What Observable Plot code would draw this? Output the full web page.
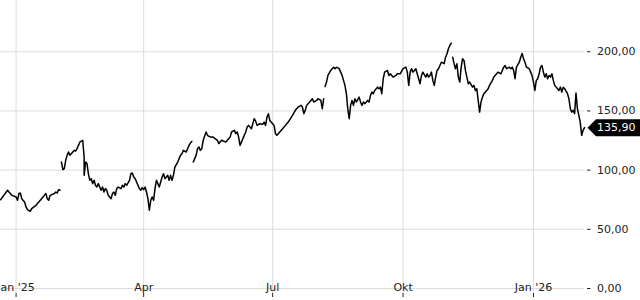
<!DOCTYPE html>
<html><head><meta charset="utf-8">
<script src="https://cdn.jsdelivr.net/npm/d3@7"></script>
<script src="https://cdn.jsdelivr.net/npm/@observablehq/plot@0.6"></script>
<style>
html,body{margin:0;padding:0;background:#fff;}
#chart svg{display:block;}
</style></head><body><div id="chart"></div>
<script>
// Daily closing prices (null = break in the line)
const dates = [
"2024-12-21","2024-12-26","2024-12-27","2024-12-29",
"2025-01-01","2025-01-02","2025-01-03","2025-01-04","2025-01-05","2025-01-07","2025-01-08","2025-01-09","2025-01-11","2025-01-12","2025-01-15","2025-01-17","2025-01-19","2025-01-22","2025-01-23","2025-01-24","2025-01-25","2025-01-28","2025-01-29","2025-01-30","2025-01-31",
"2025-02-01","2025-02-01",
"2025-02-02","2025-02-03","2025-02-04","2025-02-05","2025-02-06","2025-02-07","2025-02-08","2025-02-10","2025-02-11","2025-02-12","2025-02-13","2025-02-14","2025-02-15","2025-02-17","2025-02-18","2025-02-18","2025-02-19","2025-02-20","2025-02-21","2025-02-22","2025-02-23","2025-02-24","2025-02-25","2025-02-26","2025-02-27","2025-02-28",
"2025-03-02","2025-03-03","2025-03-04","2025-03-05","2025-03-06","2025-03-07","2025-03-09","2025-03-10","2025-03-11","2025-03-12","2025-03-13","2025-03-14","2025-03-16","2025-03-17","2025-03-18","2025-03-19","2025-03-20","2025-03-22","2025-03-23","2025-03-24","2025-03-25","2025-03-26","2025-03-27","2025-03-29","2025-03-30","2025-03-31",
"2025-04-01","2025-04-02","2025-04-03","2025-04-04","2025-04-05","2025-04-06","2025-04-07","2025-04-08","2025-04-09","2025-04-10","2025-04-11","2025-04-12","2025-04-13","2025-04-14","2025-04-15","2025-04-16","2025-04-18","2025-04-19","2025-04-20","2025-04-21","2025-04-22","2025-04-23","2025-04-25","2025-04-26","2025-04-27","2025-04-28","2025-04-29",
"2025-05-01","2025-05-02","2025-05-03","2025-05-04","2025-05-05","2025-05-05",
"2025-05-06","2025-05-07","2025-05-08","2025-05-09","2025-05-10","2025-05-11","2025-05-12","2025-05-13","2025-05-15","2025-05-16","2025-05-18","2025-05-20","2025-05-23","2025-05-24","2025-05-26","2025-05-29","2025-05-30",
"2025-06-01","2025-06-02","2025-06-04","2025-06-05","2025-06-06","2025-06-07","2025-06-08","2025-06-10","2025-06-12","2025-06-13","2025-06-14","2025-06-16","2025-06-18","2025-06-19","2025-06-20","2025-06-22","2025-06-24","2025-06-25","2025-06-26","2025-06-27","2025-06-28","2025-06-29",
"2025-07-01","2025-07-02","2025-07-03","2025-07-04","2025-07-05","2025-07-08","2025-07-10","2025-07-12","2025-07-15","2025-07-17","2025-07-19","2025-07-21","2025-07-22","2025-07-23","2025-07-24","2025-07-25","2025-07-28","2025-07-29","2025-07-30",
"2025-08-01","2025-08-02","2025-08-04","2025-08-05","2025-08-06","2025-08-06",
"2025-08-07","2025-08-08","2025-08-09","2025-08-11","2025-08-12","2025-08-13","2025-08-14","2025-08-15","2025-08-17","2025-08-18","2025-08-19","2025-08-20","2025-08-21","2025-08-22","2025-08-23","2025-08-24","2025-08-25","2025-08-26","2025-08-27","2025-08-28","2025-08-29","2025-08-31",
"2025-09-01","2025-09-02","2025-09-03","2025-09-04","2025-09-06","2025-09-07","2025-09-08","2025-09-09","2025-09-10","2025-09-11","2025-09-13","2025-09-14","2025-09-15","2025-09-16","2025-09-17","2025-09-18","2025-09-20","2025-09-21","2025-09-22","2025-09-23","2025-09-24","2025-09-26","2025-09-27","2025-09-29",
"2025-10-01","2025-10-03","2025-10-04","2025-10-05","2025-10-06","2025-10-07","2025-10-08","2025-10-09","2025-10-10","2025-10-11","2025-10-12","2025-10-13","2025-10-14","2025-10-15","2025-10-17","2025-10-18","2025-10-19","2025-10-20","2025-10-21","2025-10-22","2025-10-23","2025-10-24","2025-10-25","2025-10-26","2025-10-27","2025-10-28","2025-10-30","2025-10-31",
"2025-11-01","2025-11-02","2025-11-03","2025-11-04","2025-11-04",
"2025-11-05","2025-11-06","2025-11-07","2025-11-08","2025-11-09","2025-11-10","2025-11-11","2025-11-12","2025-11-13","2025-11-14","2025-11-15","2025-11-16","2025-11-17","2025-11-19","2025-11-20","2025-11-21","2025-11-22","2025-11-23","2025-11-24","2025-11-25","2025-11-26","2025-11-27","2025-11-29","2025-11-30",
"2025-12-01","2025-12-03","2025-12-04","2025-12-05","2025-12-06","2025-12-07","2025-12-09","2025-12-10","2025-12-11","2025-12-12","2025-12-13","2025-12-15","2025-12-16","2025-12-17","2025-12-18","2025-12-19","2025-12-20","2025-12-22","2025-12-23","2025-12-24","2025-12-25","2025-12-26","2025-12-27","2025-12-29","2025-12-30","2025-12-31",
"2026-01-01","2026-01-02","2026-01-03","2026-01-04","2026-01-05","2026-01-06","2026-01-07","2026-01-08","2026-01-09","2026-01-10","2026-01-11","2026-01-12","2026-01-13","2026-01-14","2026-01-15","2026-01-16","2026-01-18","2026-01-19","2026-01-20","2026-01-21","2026-01-22","2026-01-23","2026-01-25","2026-01-26","2026-01-27","2026-01-28","2026-01-29","2026-01-30","2026-01-31",
"2026-02-01","2026-02-02","2026-02-03","2026-02-04","2026-02-05","2026-02-06"
];
const prices = [
75.0,83.0,81.5,78.7,
77.3,74.5,80.2,80.7,75.9,73.1,68.9,66.7,65.2,67.5,70.3,73.1,75.9,80.2,75.9,74.5,78.7,80.2,81.5,80.7,83.5,
83.0,null,
106.8,100.4,101.3,108.3,112.5,115.3,112.5,115.3,116.7,116.1,118.1,120.9,123.7,125.2,111.1,95.6,106.8,105.5,97.0,91.4,92.8,88.6,91.4,87.2,85.7,88.6,
83.0,85.7,81.5,84.4,83.0,78.7,75.9,80.2,81.5,78.7,84.4,85.7,84.4,87.2,85.7,88.6,87.2,91.4,97.0,97.6,94.2,92.8,90.0,84.4,83.0,85.2,
83.5,85.7,81.5,75.9,66.1,74.5,77.3,74.5,84.4,91.4,88.6,85.7,90.0,94.2,97.0,92.8,95.6,91.4,95.6,91.4,95.6,102.6,106.8,109.7,112.5,113.9,116.7,
115.3,118.1,120.9,122.9,124.3,null,
106.8,109.7,112.5,118.1,119.5,116.7,118.1,125.2,132.2,129.4,127.9,127.9,125.2,122.4,125.2,123.7,125.2,
127.9,132.2,133.6,130.8,132.2,127.9,120.9,126.6,132.2,136.4,137.8,135.0,143.5,141.4,137.8,139.2,138.7,140.6,137.8,144.8,147.7,142.0,
139.2,137.8,130.8,129.4,130.8,135.0,137.8,140.6,146.2,150.5,153.3,154.7,153.3,147.7,150.5,154.7,158.9,160.3,157.5,
158.9,160.3,158.9,151.9,160.3,null,
170.7,174.4,180.0,184.2,185.7,187.0,185.7,187.0,185.7,182.8,180.0,175.8,171.6,164.6,151.9,143.5,154.7,158.9,154.7,160.3,157.5,161.7,
157.5,154.7,157.5,156.1,158.9,157.5,163.1,165.9,164.6,167.3,170.1,168.8,170.1,164.6,177.2,182.8,184.2,180.0,181.4,180.0,178.6,180.0,181.4,181.4,
185.7,187.0,182.8,171.6,182.8,185.7,182.8,184.2,185.7,181.4,177.2,173.0,180.0,182.8,178.6,181.4,178.6,180.0,182.8,175.8,171.6,178.6,184.2,185.7,188.4,191.2,189.9,195.4,
198.3,202.5,205.3,207.3,null,
195.4,189.9,185.7,189.9,178.6,174.4,187.0,194.1,192.7,184.2,178.6,173.0,174.4,170.1,171.6,167.3,168.8,158.9,149.0,157.5,161.7,164.6,167.3,168.8,
171.6,175.8,178.6,180.0,181.4,182.8,181.4,184.2,187.0,188.4,185.7,187.0,185.7,187.0,184.2,177.2,187.0,191.2,195.4,198.6,194.1,191.2,187.0,185.7,182.8,180.0,
174.4,167.3,175.8,177.2,181.4,187.0,188.4,182.8,178.6,181.4,177.2,180.0,178.6,181.4,175.8,171.6,168.8,167.3,170.1,165.9,170.1,168.8,164.6,160.3,151.9,149.0,150.5,147.7,165.1,
151.9,146.2,140.6,129.4,133.6,135.9
];
const xTickDates = ["2025-01-01","2025-04-01","2025-07-01","2025-10-01","2026-01-01"];
const xTickLabels = ["Jan '25","Apr","Jul","Okt","Jan '26"];
const yTicks = [0, 50, 100, 150, 200];
const xDomain = ["2024-12-21", "2026-02-06"];
const yDomain = [0, 243.3];
const lastPrice = 135.9;

if (dates.length !== prices.length) console.error("length mismatch", dates.length, prices.length);

const parse = s => new Date(s + "T00:00:00Z");
const de = d3.formatLocale({decimal: ",", thousands: ".", grouping: [3], currency: ["", " €"]});
const fmt = de.format(".2f");
const data = dates.map((d, i) => ({date: parse(d), price: prices[i]}));
const tickDates = xTickDates.map(parse);
const labelOf = new Map(tickDates.map((d, i) => [+d, xTickLabels[i]]));

// arrow-shaped badge for the last price (tip on the left)
const badge = {draw(ctx) {
  ctx.moveTo(0, 0); ctx.lineTo(8.5, -8.5); ctx.lineTo(53, -8.5);
  ctx.lineTo(53, 8.5); ctx.lineTo(8.5, 8.5); ctx.closePath();
}};

const plot = Plot.plot({
  width: 640, height: 300,
  marginLeft: 0, marginRight: 56, marginTop: 0, marginBottom: 7,
  insetBottom: 5,
  style: {fontFamily: "'DejaVu Sans', sans-serif", fontSize: "11px", color: "#222", background: "#fff", overflow: "hidden"},
  x: {type: "utc", domain: xDomain.map(parse)},
  y: {domain: yDomain},
  marks: [
    Plot.gridY(yTicks, {stroke: "#dcdcdc", strokeOpacity: 1}),
    Plot.gridX(tickDates, {stroke: "#dcdcdc", strokeOpacity: 1}),
    Plot.axisY(yTicks, {anchor: "right", tickSize: 3.5, dx: 2, tickPadding: 7, tickFormat: fmt, label: null, stroke: "#222"}),
    Plot.axisX(tickDates, {anchor: "bottom", tickSize: 4, tickPadding: -14, tickFormat: d => labelOf.get(+d), label: null, stroke: "#222"}),
    Plot.line(data, {x: "date", y: "price", stroke: "#000", strokeWidth: 1.5}),
    Plot.dot([lastPrice], {y: d => d, frameAnchor: "right", dx: 3, symbol: badge, fill: "#000", stroke: "none"}),
    Plot.text([lastPrice], {y: d => d, frameAnchor: "right", dx: 12.5, textAnchor: "start", text: d => fmt(d), fill: "#fff", fontSize: 11})
  ]
});
document.getElementById("chart").appendChild(plot);
</script>
</body></html>
